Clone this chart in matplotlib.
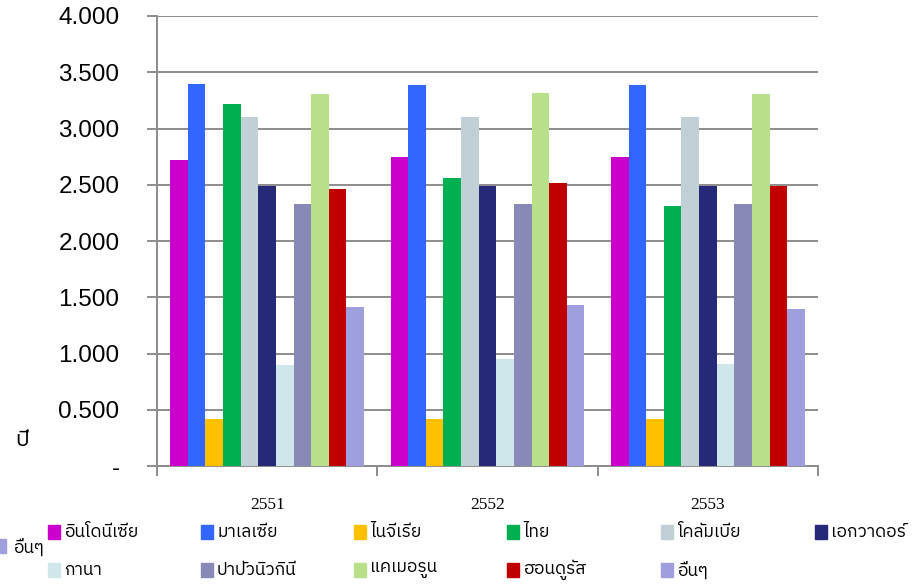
import matplotlib
matplotlib.use("Agg")
import matplotlib.pyplot as plt
from matplotlib import font_manager, ft2font
from matplotlib.patches import Rectangle
import numpy as np

# years (Buddhist era) and producers
years = ["2551", "2552", "2553"]
countries = ["อินโดนีเซีย", "มาเลเซีย", "ไนจีเรีย", "ไทย", "โคลัมเบีย", "เอกวาดอร์",
             "กานา", "ปาปัวนิวกินี", "แคเมอรูน", "ฮอนดูรัส", "อื่นๆ"]
colors = ["#CC00CC", "#3366FF", "#FFC000", "#00B050", "#C0D0D4", "#262878",
          "#CFE7EA", "#8989B8", "#B8E08A", "#C00000", "#9F9FDD"]

indonesia = [2.72, 2.75, 2.75]
malaysia = [3.40, 3.39, 3.39]
nigeria = [0.42, 0.42, 0.42]
thailand = [3.215, 2.56, 2.31]
colombia = [3.10, 3.10, 3.10]
ecuador = [2.49, 2.49, 2.49]
ghana = [0.90, 0.95, 0.91]
png = [2.325, 2.325, 2.325]
cameroon = [3.31, 3.32, 3.31]
honduras = [2.46, 2.52, 2.49]
others = [1.41, 1.43, 1.40]
series = [indonesia, malaysia, nigeria, thailand, colombia, ecuador,
          ghana, png, cameroon, honduras, others]


def thai_font():
    # pick an installed font that actually has Thai glyphs
    found = []
    for f in font_manager.fontManager.ttflist:
        try:
            ft = ft2font.FT2Font(f.fname)
            if ft.get_char_index(0x0E2D) and ft.get_char_index(0x0E35):
                found.append(f.name)
        except Exception:
            pass
    for name in found:
        if "Thai" in name:
            return name
    return found[0] if found else "DejaVu Sans"


thai = thai_font()
plt.rcParams["font.family"] = [thai, "DejaVu Sans"]

W, H = 913, 587
fig = plt.figure(figsize=(W / 100, H / 100), dpi=100)
ax = fig.add_axes([157 / W, 1 - 466 / H, (818 - 157) / W, (466 - 16) / H])

n = len(series)
bw = 0.08
x = np.arange(len(years))
for i, (vals, c) in enumerate(zip(series, colors)):
    ax.bar(x + (i - (n - 1) / 2) * bw, vals, bw, color=c, zorder=3)

ax.set_xlim(-0.5, 2.5)
ax.set_ylim(0, 4.0)
yt = np.arange(0, 4.01, 0.5)
ax.set_yticks(yt)
ax.set_yticklabels(["-" if v == 0 else f"{v:.3f}" for v in yt],
                   family="Liberation Sans", fontsize=17.5)
ax.yaxis.grid(True, color="#8C8C8C", lw=1.4, zorder=0)

ax.set_xticks([-0.5, 0.5, 1.5, 2.5])
ax.set_xticklabels([])
ax.set_xticks(x, minor=True)
ax.set_xticklabels(years, minor=True, family="Liberation Serif", fontsize=12.5)
ax.tick_params(axis="x", which="minor", length=0, pad=22)
ax.tick_params(axis="both", which="major", length=7, width=1.4, color="#8C8C8C",
               direction="out")
ax.tick_params(axis="y", pad=20)

for s in ["top", "right"]:
    ax.spines[s].set_visible(False)
for s in ["left", "bottom"]:
    ax.spines[s].set_color("#8C8C8C")
    ax.spines[s].set_linewidth(1.4)

fig.text(22 / W, 1 - 440 / H, "ปี", fontsize=16, ha="center", va="center")

# legend drawn by hand: two rows of five/six entries plus the wrapped one
row1_x = [48, 201, 354, 507, 661, 815]
row2_x = [48, 201, 354, 507, 661]
entries = [(row1_x[k], 532, k) for k in range(6)]
entries += [(row2_x[k], 570, 6 + k) for k in range(5)]
for px, py, k in entries:
    fig.patches.append(Rectangle((px / W, 1 - (py + 7) / H), 12 / W, 14 / H,
                                 transform=fig.transFigure, color=colors[k]))
    fig.text((px + 16) / W, 1 - py / H, countries[k], fontsize=12.5,
             ha="left", va="center")
fig.patches.append(Rectangle((-6 / W, 1 - 553 / H), 12 / W, 14 / H,
                             transform=fig.transFigure, color=colors[-1]))
fig.text(13 / W, 1 - 547 / H, countries[-1], fontsize=12.5, ha="left", va="center")

fig.savefig("out.png", dpi=100)
